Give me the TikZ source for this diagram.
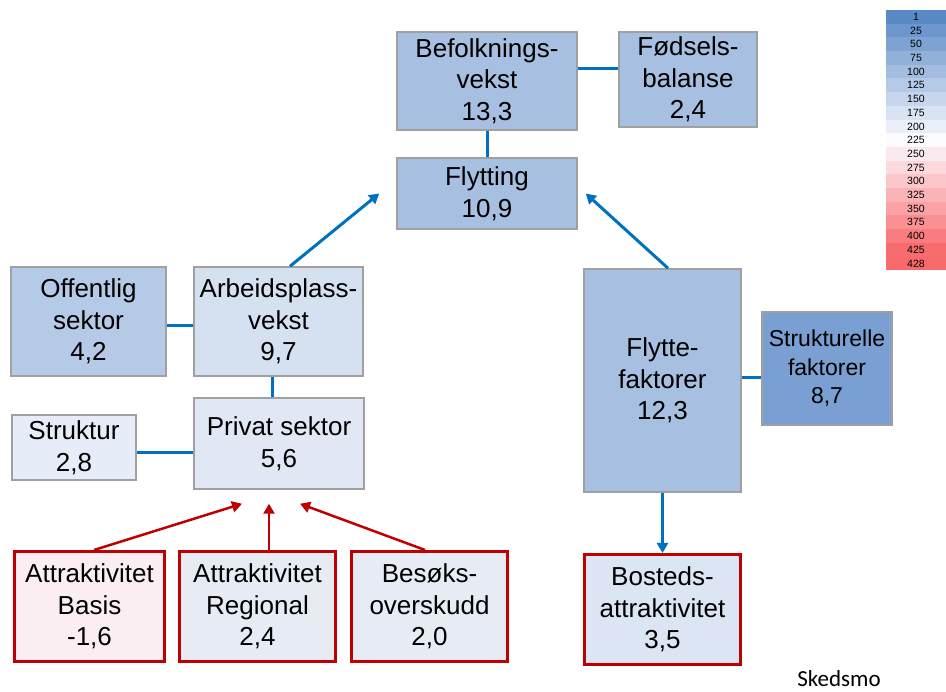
\documentclass[tikz,border=0pt]{standalone}
\usepackage{fontspec}
\setmainfont{Liberation Sans}
\newfontfamily\notefont{Carlito}
\usetikzlibrary{arrows.meta}
\definecolor{boxgray}{HTML}{A0A0A0}
\definecolor{linkblue}{HTML}{0070C0}
\definecolor{attred}{HTML}{C00000}
\definecolor{scaleblue}{HTML}{5A8AC6}
\definecolor{scalemid}{HTML}{FCFCFF}
\definecolor{scalered}{HTML}{F8696B}
\definecolor{rankA}{HTML}{A7BFE1}
\definecolor{rankB}{HTML}{B5CAE6}
\definecolor{rankC}{HTML}{D5E0F1}
\definecolor{rankD}{HTML}{E1E8F5}
\definecolor{rankE}{HTML}{E7EDF8}
\definecolor{rankF}{HTML}{7AA0D3}
\definecolor{rankG}{HTML}{FAEEF2}
\definecolor{rankH}{HTML}{E6EBF4}
\definecolor{rankI}{HTML}{DCE5F3}
\tikzset{
 box/.style 2 args={draw=boxgray,line width=1.5pt,align=center,inner sep=0pt,
  minimum width=#1pt,minimum height=#2pt,font=\fontsize{26}{31.7}\selectfont},
 redbox/.style 2 args={box={#1}{#2},draw=attred,line width=3pt},
 link/.style={draw=linkblue,line width=3pt},
 push/.style={link,-{Triangle[length=10pt,width=11pt]}},
 pull/.style={draw=attred,line width=2.5pt,-{Triangle[length=10pt,width=11pt]}}
}
\begin{document}
\begin{tikzpicture}[x=1pt,y=-1pt]
 \useasboundingbox (0,0) rectangle (946,692);
 % top row
 \node[box={180}{98},fill=rankA] (befolk) at (487,81) {Befolknings-\\vekst\\13,3};
 \node[box={138}{95},fill=rankA] (fodsel) at (688,79.5) {Fødsels-\\balanse\\2,4};
 \node[box={180}{71},fill=rankA] (flytting) at (487,193.5) {Flytting\\10,9};
 % work side
 \node[box={155}{109},fill=rankB] (offentlig) at (88.5,321.5) {Offentlig\\sektor\\4,2};
 \node[box={169}{109},fill=rankC] (arbeid) at (278.5,321.5) {Arbeidsplass-\\vekst\\9,7};
 \node[box={170}{91},fill=rankD] (privat) at (279,443.5) {Privat sektor\\5,6};
 \node[box={124}{65},fill=rankE] (struktur) at (74,447.5) {Struktur\\2,8};
 % moving side
 \node[box={157}{223},fill=rankA] (flytte) at (662.5,380.5) {Flytte-\\faktorer\\12,3};
 \node[box={130}{113},fill=rankF,font=\fontsize{23}{28.5}\selectfont] (strukfak) at (827,368.5) {Strukturelle\\faktorer\\8,7};
 % attractiveness
 \node[redbox={150}{110},fill=rankG] (basis) at (89.5,606.5) {Attraktivitet\\Basis\\-1,6};
 \node[redbox={156}{110},fill=rankH] (regional) at (257.5,606.5) {Attraktivitet\\Regional\\2,4};
 \node[redbox={156}{110},fill=rankH] (besok) at (429.5,606.5) {Besøks-\\overskudd\\2,0};
 \node[redbox={156}{110},fill=rankI] (bosted) at (662.5,609.5) {Bosteds-\\attraktivitet\\3,5};
 % connectors
 \draw[link] ([yshift=12pt]befolk.east) -- ([yshift=12pt]befolk.east -| fodsel.west);
 \draw[link] (befolk) -- (flytting);
 \draw[link] ([yshift=-4.5pt]offentlig.east) -- ([yshift=-4.5pt]offentlig.east -| arbeid.west);
 \draw[link] ([xshift=-6.5pt]arbeid.south) -- ([xshift=-6.5pt]arbeid.south |- privat.north);
 \draw[link] ([yshift=-5.5pt]struktur.east) -- ([yshift=-5.5pt]struktur.east -| privat.west);
 \draw[link] ([yshift=2.5pt]flytte.east) -- ([yshift=2.5pt]flytte.east -| strukfak.west);
 \draw[push] ([xshift=11.5pt]arbeid.north) -- ([xshift=-17pt]flytting.west);
 \draw[push] ([xshift=5.5pt]flytte.north) -- ([xshift=8pt]flytting.east);
 \draw[push] (flytte) -- (bosted);
 \draw[pull] ([xshift=4.5pt]basis.north) -- ([xshift=-37pt,yshift=-14pt]privat.south);
 \draw[pull] ([xshift=11.5pt]regional.north) -- ([xshift=-10pt,yshift=-14pt]privat.south);
 \draw[pull] ([xshift=-4.5pt]besok.north) -- ([xshift=21pt,yshift=-14pt]privat.south);
 % colour scale
 \foreach \v [count=\i] in {1,25,50,75,100,125,150,175,200,225,250,275,300,325,350,375,400,425,428}{
  \pgfmathtruncatemacro\pb{max(0,(225-\v)/224*100)}
  \pgfmathtruncatemacro\pr{max(0,(\v-225)/203*100)}
  \ifnum\v>225 \colorlet{cell}{scalered!\pr!scalemid}\else\colorlet{cell}{scaleblue!\pb!scalemid}\fi
  \fill[cell] (886,{10+(\i-1)*13.7}) rectangle (946,{10+\i*13.7});
  \node[font=\fontsize{10.5}{12}\selectfont,inner sep=0pt] at (916,{16.85+(\i-1)*13.7}) {\v};
 }
 \node[font=\notefont\fontsize{23}{28}\selectfont,anchor=base,inner sep=0pt] (kommune) at (839,686) {Skedsmo};
\end{tikzpicture}
\end{document}
